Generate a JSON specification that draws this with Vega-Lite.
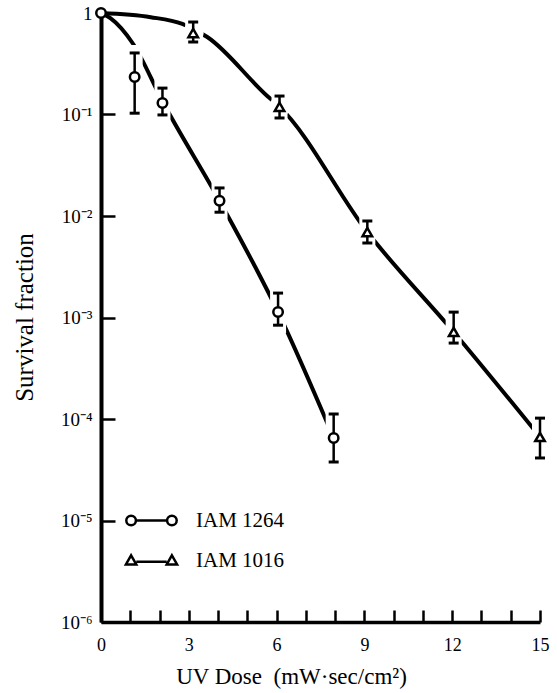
{
  "$schema": "https://vega.github.io/schema/vega-lite/v6.json",
  "width": 439,
  "height": 609,
  "autosize": "none",
  "padding": {"left": 101, "top": 13, "right": 17, "bottom": 71},
  "background": "white",
  "config": {
    "view": {"stroke": null},
    "font": "Liberation Serif",
    "axis": {
      "domainColor": "black",
      "tickColor": "black",
      "labelColor": "black",
      "titleColor": "black",
      "grid": false,
      "labelFont": "Liberation Serif",
      "titleFont": "Liberation Serif",
      "titleFontWeight": "normal"
    }
  },
  "datasets": {
    "points": [
      {"series": "IAM 1264", "dose": 0, "sf": 1},
      {"series": "IAM 1264", "dose": 1.15, "sf": 0.234, "lo": 0.103, "hi": 0.404},
      {"series": "IAM 1264", "dose": 2.1, "sf": 0.13, "lo": 0.099, "hi": 0.182},
      {"series": "IAM 1264", "dose": 4.05, "sf": 0.0141, "lo": 0.0109, "hi": 0.0189},
      {"series": "IAM 1264", "dose": 6.05, "sf": 0.00113, "lo": 0.00084, "hi": 0.00174},
      {"series": "IAM 1264", "dose": 7.95, "sf": 0.000065, "lo": 0.0000377, "hi": 0.000112},
      {"series": "IAM 1016", "dose": 3.15, "sf": 0.635, "lo": 0.518, "hi": 0.815},
      {"series": "IAM 1016", "dose": 6.1, "sf": 0.119, "lo": 0.0924, "hi": 0.152},
      {"series": "IAM 1016", "dose": 9.1, "sf": 0.00695, "lo": 0.00542, "hi": 0.00893},
      {"series": "IAM 1016", "dose": 12.05, "sf": 0.00072, "lo": 0.00056, "hi": 0.00113},
      {"series": "IAM 1016", "dose": 15, "sf": 0.0000665, "lo": 0.0000413, "hi": 0.000102}
    ],
    "fit": [
      {"series": "IAM 1264", "dose": 0, "sf": 1},
      {"series": "IAM 1264", "dose": 0.32, "sf": 0.89},
      {"series": "IAM 1264", "dose": 1.1, "sf": 0.495},
      {"series": "IAM 1264", "dose": 2.1, "sf": 0.135},
      {"series": "IAM 1264", "dose": 4.05, "sf": 0.0141},
      {"series": "IAM 1264", "dose": 6.05, "sf": 0.00113},
      {"series": "IAM 1264", "dose": 7.95, "sf": 0.000065},
      {"series": "IAM 1016", "dose": 0, "sf": 1},
      {"series": "IAM 1016", "dose": 1.7, "sf": 0.91},
      {"series": "IAM 1016", "dose": 2.78, "sf": 0.78},
      {"series": "IAM 1016", "dose": 3.63, "sf": 0.58},
      {"series": "IAM 1016", "dose": 5.68, "sf": 0.152},
      {"series": "IAM 1016", "dose": 6.1, "sf": 0.119},
      {"series": "IAM 1016", "dose": 9.1, "sf": 0.00695},
      {"series": "IAM 1016", "dose": 12.05, "sf": 0.00072},
      {"series": "IAM 1016", "dose": 15, "sf": 0.0000665}
    ]
  },
  "encoding": {
    "x": {
      "field": "dose",
      "type": "quantitative",
      "scale": {"domain": [0, 15], "nice": false, "zero": false},
      "axis": {
        "title": "UV Dose\u00a0\u00a0(mW·sec/cm²)",
        "titleFontSize": 23,
        "titleX": 190,
        "titleY": 54,
        "titleBaseline": "middle",
        "values": [0, 1, 2, 3, 4, 5, 6, 7, 8, 9, 10, 11, 12, 13, 14, 15],
        "labelExpr": "datum.value % 3 === 0 ? datum.label : ''",
        "labelFontSize": 18,
        "labelPadding": 26,
        "labelFlush": false,
        "labelOverlap": false,
        "tickSize": -12,
        "tickWidth": 2.5,
        "domainWidth": 3.5
      }
    },
    "y": {
      "field": "sf",
      "type": "quantitative",
      "scale": {"type": "log", "domain": [0.000001, 1], "nice": false},
      "axis": {
        "title": "Survival fraction",
        "titleFontSize": 25,
        "titleX": -77,
        "titleY": 304,
        "titleBaseline": "middle",
        "values": [0.000001, 0.00001, 0.0001, 0.001, 0.01, 0.1, 1],
        "labelExpr": "datum.value >= 0.99 ? '1\u2007\u2007' : '10⁻' + ['', '¹', '²', '³', '⁴', '⁵', '⁶'][round(-log(datum.value) / LN10)]",
        "labelFontSize": 19,
        "labelPadding": 23,
        "labelOverlap": false,
        "tickSize": -14,
        "tickWidth": 2.5,
        "domainWidth": 4
      }
    }
  },
  "layer": [
    {
      "data": {"name": "fit"},
      "mark": {"type": "line", "stroke": "black", "strokeWidth": 4, "interpolate": "monotone", "strokeCap": "round"},
      "encoding": {"detail": {"field": "series"}}
    },
    {
      "data": {"name": "points"},
      "transform": [{"filter": "datum.lo != null"}],
      "mark": {"type": "rule", "stroke": "white", "strokeWidth": 16, "strokeCap": "square"},
      "encoding": {"y": {"field": "lo", "type": "quantitative"}, "y2": {"field": "hi"}}
    },
    {
      "data": {"name": "points"},
      "transform": [{"filter": "datum.lo != null"}],
      "mark": {"type": "point", "shape": "circle", "filled": true, "fill": "white", "stroke": null, "size": 440, "opacity": 1},
      "encoding": {}
    },
    {
      "data": {"name": "points"},
      "transform": [{"filter": "datum.lo != null"}],
      "mark": {"type": "rule", "stroke": "black", "strokeWidth": 2.5},
      "encoding": {"y": {"field": "lo", "type": "quantitative"}, "y2": {"field": "hi"}}
    },
    {
      "data": {"name": "points"},
      "transform": [{"filter": "datum.lo != null"}],
      "mark": {"type": "tick", "orient": "horizontal", "color": "black", "size": 10, "thickness": 3, "opacity": 1},
      "encoding": {"y": {"field": "lo", "type": "quantitative"}}
    },
    {
      "data": {"name": "points"},
      "transform": [{"filter": "datum.lo != null"}],
      "mark": {"type": "tick", "orient": "horizontal", "color": "black", "size": 10, "thickness": 3, "opacity": 1},
      "encoding": {"y": {"field": "hi", "type": "quantitative"}}
    },
    {
      "data": {"name": "points"},
      "transform": [{"filter": "datum.series === 'IAM 1264'"}],
      "mark": {"type": "point", "shape": "circle", "filled": true, "fill": "white", "stroke": "black", "strokeWidth": 2.5, "size": 90, "opacity": 1},
      "encoding": {}
    },
    {
      "data": {"name": "points"},
      "transform": [{"filter": "datum.series === 'IAM 1016'"}],
      "mark": {"type": "point", "shape": "triangle-up", "filled": true, "fill": "white", "stroke": "black", "strokeWidth": 2.5, "size": 90, "opacity": 1},
      "encoding": {}
    },
    {
      "data": {"name": "points"},
      "transform": [{"filter": "datum.dose < 0"}],
      "mark": {"type": "point", "filled": false, "stroke": "black", "strokeWidth": 2.5, "size": 64},
      "encoding": {
        "shape": {
          "field": "series",
          "type": "nominal",
          "scale": {
            "domain": ["IAM 1264", "IAM 1016"],
            "range": [
              "M -6.3 0 A 1.2 1.2 0 1 0 -3.9 0 A 1.2 1.2 0 1 0 -6.3 0 M -3.9 0 L 3.9 0 M 3.9 0 A 1.2 1.2 0 1 0 6.3 0 A 1.2 1.2 0 1 0 3.9 0",
              "M -5.1 -1.3 L -3.8 1 L -6.4 1 Z M -3.8 0.3 L 3.8 0.3 M 5.1 -1.3 L 6.4 1 L 3.8 1 Z"
            ]
          },
          "legend": {
            "title": null,
            "orient": "none",
            "legendX": 40,
            "legendY": 497,
            "padding": 0,
            "symbolSize": 64,
            "symbolStrokeColor": "black",
            "symbolStrokeWidth": 2.5,
            "symbolOpacity": 1,
            "labelFont": "Liberation Serif",
            "labelFontSize": 21,
            "labelColor": "black",
            "labelOffset": 34,
            "rowPadding": 18
          }
        }
      }
    }
  ]
}
